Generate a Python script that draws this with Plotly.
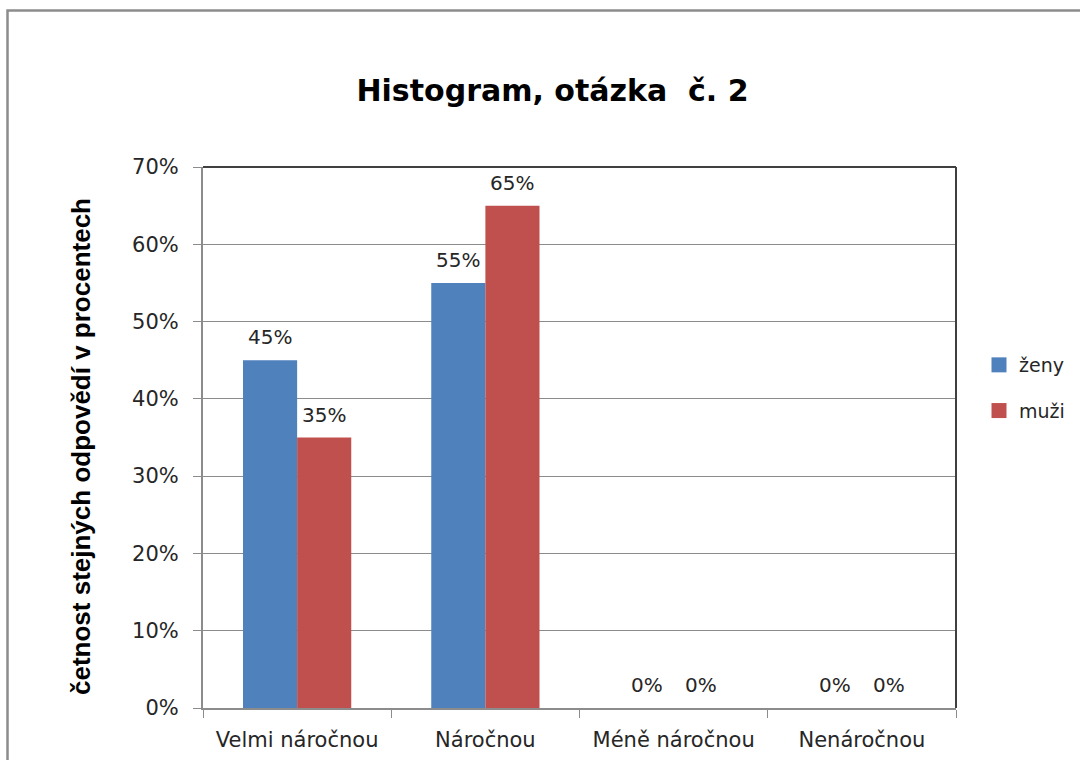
import plotly.graph_objects as go

categories = ["Velmi náročnou", "Náročnou", "Méně náročnou", "Nenáročnou"]
zeny = [0.45, 0.55, 0.0, 0.0]
muzi = [0.35, 0.65, 0.0, 0.0]
series_names = ["ženy", "muži"]
colors = ["#4F81BD", "#C0504D"]

W, H = 1080, 760
L, R, T, B = 203, 124, 167, 52
pw, ph = W - L - R, H - T - B
LABEL_FONT = "DejaVu Sans"
TXT = "#262626"

fig = go.Figure()
annotations = []
offsets = [-27, 27]
for name, vals, col, off in zip(series_names, [zeny, muzi], colors, offsets):
    fig.add_trace(go.Bar(
        x=categories, y=vals, name=name, marker_color=col,
        marker_line_width=0, showlegend=False,
    ))
    # legend proxy with a larger square symbol
    fig.add_trace(go.Scatter(
        x=[None], y=[None], mode="markers", name=name,
        marker=dict(symbol="square", size=15, color=col),
        legendgroup=name,
    ))
    for c, v in zip(categories, vals):
        annotations.append(dict(
            x=c, y=v, xref="x", yref="y", text=f"{v*100:.0f}%",
            showarrow=False, xshift=off, yshift=23, yanchor="middle",
            font=dict(size=20, family=LABEL_FONT, color=TXT),
        ))

def px_x(x):
    return (x - L) / pw

def px_y(y):
    return (H - B - y) / ph

annotations.append(dict(
    xref="paper", yref="paper", x=px_x(81), y=px_y(447),
    text="<b>četnost stejných odpovědí v procentech</b>", textangle=-90,
    showarrow=False, xanchor="center", yanchor="middle",
    font=dict(size=26, family="Liberation Sans", color="#000000"),
))

shapes = [
    # outer chart border
    dict(type="rect", xref="paper", yref="paper",
         x0=px_x(7.5), x1=px_x(1100), y0=px_y(790), y1=px_y(10.5),
         line=dict(color="#8C8C8C", width=2.5), layer="below"),
    # top & right frame of plot area
    dict(type="line", xref="paper", yref="paper", x0=0, x1=1, y0=1, y1=1,
         line=dict(color="#404040", width=2)),
    dict(type="line", xref="paper", yref="paper", x0=1, x1=1, y0=0, y1=1,
         line=dict(color="#404040", width=2)),
]

fig.update_layout(
    width=W, height=H,
    margin=dict(l=L, r=R, t=T, b=B, autoexpand=False),
    paper_bgcolor="white", plot_bgcolor="white",
    barmode="group", bargap=0.425, bargroupgap=0,
    title=dict(text="<b>Histogram, otázka  č. 2</b>", x=552.5 / W, xanchor="center",
               y=1 - 90 / H, yanchor="middle",
               font=dict(size=30, family="DejaVu Sans", color="#000000")),
    font=dict(family=LABEL_FONT, color=TXT),
    showlegend=True,
    legend=dict(x=px_x(979), y=px_y(388), xanchor="left", yanchor="middle",
                font=dict(size=19, family=LABEL_FONT, color=TXT),
                tracegroupgap=18, itemwidth=30, bgcolor="rgba(0,0,0,0)"),
    shapes=shapes,
    annotations=annotations,
    xaxis=dict(showline=True, linecolor="#8C8C8C", linewidth=2,
               ticks="outside", tickson="boundaries", ticklen=8, tickcolor="#8C8C8C",
               tickfont=dict(size=21, family=LABEL_FONT, color=TXT),
               ticklabelstandoff=12, showgrid=False),
    yaxis=dict(range=[0, 0.7], dtick=0.1, tickformat=".0%",
               showline=True, linecolor="#8C8C8C", linewidth=2,
               ticks="outside", ticklen=8, tickcolor="#8C8C8C",
               tickfont=dict(size=21, family=LABEL_FONT, color=TXT),
               ticklabelstandoff=10,
               showgrid=True, gridcolor="#8C8C8C", gridwidth=1.2,
               zeroline=False),
)

fig.write_html("out.html", config={"displayModeBar": False},
               post_script="document.body.style.margin='0';")
